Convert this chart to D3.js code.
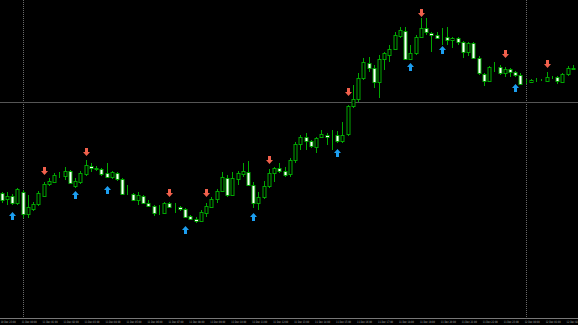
<!DOCTYPE html>
<html>
<head>
<meta charset="utf-8">
<script src="https://cdn.jsdelivr.net/npm/d3@7"></script>
<style>
  html, body { margin: 0; padding: 0; background: #000; }
  svg { display: block; }
</style>
</head>
<body>
<script>
// bougies M15 (niveaux en points)
const opens  = [57,51,54,47,58,36,41,46,54,66,68,75,74,79,64,68,76,84,82,81,77,73,77,71,57,56,50,54,47,44,37,37,47,43,43,41,34,31,29,37,43,51,59,72,55,71,76,78,65,47,53,64,77,82,79,76,90,106,113,109,103,113,115,114,115,109,116,144,151,172,187,182,168,191,195,201,214,219,191,197,213,222,217,215,213,213,210,212,208,198,207,192,176,169,183,183,177,181,178,175,168,168,170,170,169,173,173,168,176,182,182];
const highs  = [58,58,56,62,60,55,48,59,68,72,77,78,83,80,72,79,90,87,84,82,87,79,78,72,65,57,58,55,50,45,45,48,48,47,44,42,35,33,40,47,53,61,78,75,78,79,87,89,68,58,69,81,83,87,83,92,108,115,117,110,113,120,117,120,119,128,145,165,177,192,193,185,195,198,205,218,223,223,205,215,232,232,218,218,222,223,213,213,209,208,208,194,177,184,188,185,183,182,179,177,171,171,172,171,178,174,174,177,184,185,184];
const lows   = [47,45,45,45,32,32,39,44,53,64,67,72,70,66,62,66,74,78,79,74,72,71,69,55,55,49,45,46,43,34,35,36,42,37,39,32,30,27,28,33,42,47,58,53,54,65,73,64,42,40,51,62,68,77,73,73,87,100,100,102,97,112,105,100,107,107,114,142,148,170,178,162,152,180,188,200,212,190,190,195,212,215,198,211,205,205,202,205,192,194,191,175,164,168,178,175,173,173,173,165,166,167,168,169,168,171,166,167,174,180,180];
const closes = [50,54,47,61,36,43,46,57,66,69,75,75,79,67,69,77,85,82,81,76,73,78,71,56,57,50,55,47,44,37,37,47,43,43,41,33,31,29,38,44,51,59,73,55,72,77,79,65,47,53,64,77,82,79,75,90,106,113,109,104,112,116,113,114,109,115,144,151,172,188,182,168,191,197,201,215,220,191,197,213,222,218,215,212,213,210,212,208,198,207,192,177,169,183,183,177,181,178,175,166,168,170,170,170,173,173,169,176,182,181,182];

// flèches de signal (bougie, niveau)
const sellBars   = [8, 16, 32, 39, 51, 66, 80, 96, 104];
const sellLevels = [79, 98, 57, 57, 90, 158, 237, 196, 186];
const buyBars    = [2, 14, 20, 35, 48, 64, 78, 84, 98];
const buyLevels  = [34, 55, 60, 20, 33, 97, 183, 200, 162];

// séparateurs de jours et ligne horizontale
const separatorBars = [4, 100];
const hLevel = 148;

// étiquettes de temps (une toutes les 4 bougies)
const timeLabels = ["10 Dec 23:00","11 Dec 00:00","11 Dec 01:00","11 Dec 02:00","11 Dec 03:00","11 Dec 04:00","11 Dec 05:00","11 Dec 06:00","11 Dec 07:00","11 Dec 08:00","11 Dec 09:00","11 Dec 10:00","11 Dec 11:00","11 Dec 12:00","11 Dec 13:00","11 Dec 14:00","11 Dec 15:00","11 Dec 16:00","11 Dec 17:00","11 Dec 18:00","11 Dec 19:00","11 Dec 20:00","11 Dec 21:00","11 Dec 22:00","11 Dec 23:00","12 Dec 00:00","12 Dec 01:00","12 Dec 02:00"];
const labelStep = 4;

const W = 578, H = 325, axisY = 318;
const vert = "#00a800";

const svg = d3.select('body')
  .append('svg')
  .attr('width', W)
  .attr('height', H)
  .style('background', '#000');

const x = d3.scaleLinear().domain([0, 110]).range([1.7, 578.1]);
const y = d3.scaleLinear().domain([0, 250]).range([250, 0]);

const bougies = opens.map((o, i) => ({i, o, h: highs[i], l: lows[i], c: closes[i]}));

// séparateurs pointillés
svg.selectAll('line.sep')
  .data(separatorBars)
  .enter().append('line')
  .attr('class', 'sep')
  .attr('x1', d => Math.round(x(d)) + 0.5)
  .attr('x2', d => Math.round(x(d)) + 0.5)
  .attr('y1', 0)
  .attr('y2', axisY)
  .attr('stroke', '#6a6a6a')
  .attr('stroke-dasharray', '1,1');

// ligne horizontale
svg.append('line')
  .attr('x1', 0).attr('x2', W)
  .attr('y1', Math.round(y(hLevel)) + 0.5)
  .attr('y2', Math.round(y(hLevel)) + 0.5)
  .attr('stroke', '#555');

// mèches
svg.selectAll('line.meche')
  .data(bougies)
  .enter().append('line')
  .attr('class', 'meche')
  .attr('x1', d => Math.round(x(d.i)) + 0.5)
  .attr('x2', d => Math.round(x(d.i)) + 0.5)
  .attr('y1', d => y(d.h))
  .attr('y2', d => y(d.l))
  .attr('stroke', vert);

// corps
svg.selectAll('rect.corps')
  .data(bougies)
  .enter().append('rect')
  .attr('class', 'corps')
  .attr('x', d => Math.round(x(d.i)) - 1)
  .attr('width', 3)
  .attr('y', d => y(Math.max(d.o, d.c)) + 0.5)
  .attr('height', d => Math.abs(y(d.o) - y(d.c)))
  .attr('fill', d => d.c < d.o ? '#fff' : '#000')
  .attr('stroke', vert)
  .attr('stroke-width', 1);

// flèches
const flecheHaut = "M0,-4 L3.5,0 L1.5,0 L1.5,4 L-1.5,4 L-1.5,0 L-3.5,0 Z";
const flecheBas  = "M0,4 L3.5,0 L1.5,0 L1.5,-4 L-1.5,-4 L-1.5,0 L-3.5,0 Z";

svg.selectAll('path.vente')
  .data(sellBars)
  .enter().append('path')
  .attr('class', 'vente')
  .attr('d', flecheBas)
  .attr('transform', (d, k) => `translate(${Math.round(x(d)) + 0.5},${y(sellLevels[k])})`)
  .attr('fill', '#f0604c');

svg.selectAll('path.achat')
  .data(buyBars)
  .enter().append('path')
  .attr('class', 'achat')
  .attr('d', flecheHaut)
  .attr('transform', (d, k) => `translate(${Math.round(x(d)) + 0.5},${y(buyLevels[k])})`)
  .attr('fill', '#1c9ef0');

// axe du temps
svg.append('line')
  .attr('x1', 0).attr('x2', W)
  .attr('y1', axisY + 0.5).attr('y2', axisY + 0.5)
  .attr('stroke', '#777');

svg.selectAll('text.temps')
  .data(timeLabels)
  .enter().append('text')
  .attr('class', 'temps')
  .attr('x', (d, k) => x(k * labelStep) - 1)
  .attr('y', 322.5)
  .attr('font-family', 'DejaVu Sans')
  .attr('font-size', 3)
  .attr('textLength', 15)
  .attr('lengthAdjust', 'spacingAndGlyphs')
  .attr('fill', '#b0b0b0')
  .text(d => d);
</script>
</body>
</html>
